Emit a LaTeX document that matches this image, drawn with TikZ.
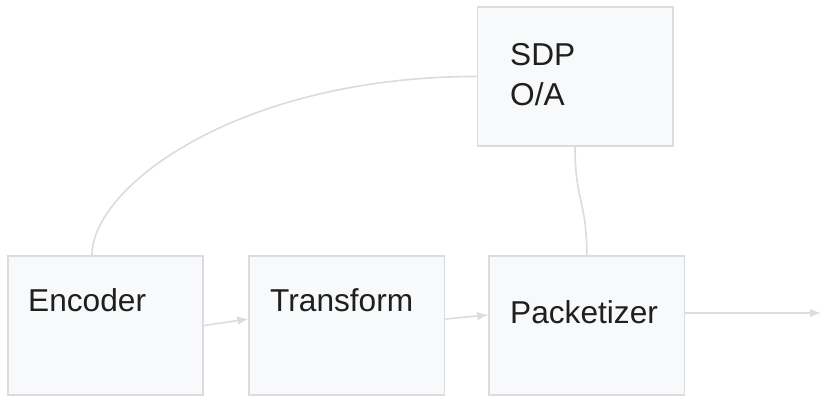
\documentclass[tikz,border=0pt]{standalone}
\usepackage{fontspec}
\setmainfont{Liberation Sans}
\usepackage{xcolor}
\definecolor{edgeGray}{HTML}{DADCE0}
\definecolor{boxBg}{HTML}{F8F9FA}
\definecolor{inkDark}{HTML}{1F1F1F}
\usetikzlibrary{positioning,calc,arrows.meta}
\tikzset{%
  blockBox/.style={%
    rectangle,
    draw=edgeGray,
    fill=boxBg,
    line width=1.4pt,
    minimum width=5.86cm,
    minimum height=4.17cm,
    inner sep=0pt
  },
  boxText/.style={%
    inner sep=0pt,
    text=inkDark,
    align=left,
    font=\fontsize{27}{34}\selectfont
  },
  flowArrow/.style={%
    -{Latex[length=3.3mm,width=2.6mm]},
    line width=1.4pt,
    color=edgeGray
  },
  linkLine/.style={%
    line width=1.4pt,
    color=edgeGray
  }
}
\begin{document}
\begin{tikzpicture}[x=0.03cm,y=0.03cm]
  \useasboundingbox (0,0) rectangle (821,-396);
  % blocks
  \node[blockBox] (enc) at (105.5,-325.5) {};
  \node[blockBox, right=1.33cm of enc] (trans) {};
  \node[blockBox, right=1.29cm of trans] (pack) {};
  \node[blockBox] (sdp) at (575,-76.5) {};
  \coordinate (out) at (821,-313);

  % labels
  \node[boxText, anchor=base west] (encText) at (28,-311) {Encoder};
  \node[boxText, anchor=base west] (transText) at (270,-311) {Transform};
  \node[boxText, anchor=base west] (packText) at (510,-323) {Packetizer};
  \node[boxText, anchor=base west] (sdpText) at (510,-105) {SDP\\O/A};

  % media path
  \draw[flowArrow] (enc.east) -- ($(trans.west)+(0,6.5)$);
  \draw[flowArrow] ($(trans.east)+(0,6.5)$) -- ($(pack.west)+(0,10.5)$);
  \draw[flowArrow] ($(pack.east)+(0,12.5)$) -- (out);

  % offer/answer links
  \draw[linkLine] (sdp.west) .. controls ($(sdp.west)+(-237,0)$) and ($(enc.north)+(-13.5,69)$) .. ($(enc.north)+(-13.5,0)$);
  \draw[linkLine] (sdp.south) .. controls +(0,-55) and +(0,55) .. (pack.north);
\end{tikzpicture}
\end{document}
